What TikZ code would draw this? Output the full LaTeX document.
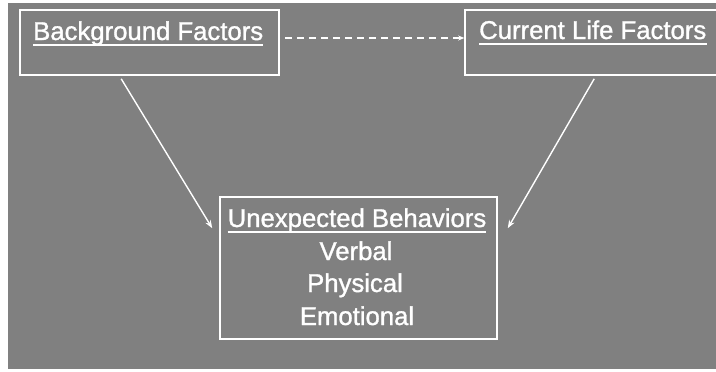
\documentclass[tikz,border=0pt]{standalone}
\usepackage{fontspec}
\setmainfont{Liberation Sans}
\newfontfamily\heavysans{Liberation Sans}[FakeBold=1.2]
\usetikzlibrary{arrows.meta}
\definecolor{bggray}{RGB}{128,128,128}
\tikzset{
  box/.style={draw=white, line width=1.6pt, inner sep=0pt},
  lbl/.style={text=white, font=\heavysans\fontsize{25.7}{30}\selectfont, inner sep=0pt},
  uline/.style={draw=white, line width=1.5pt},
  arr/.style={draw=white, line width=1.4pt, -{Stealth[length=8pt,width=6pt]}},
  dasharr/.style={draw=white, line width=1.3pt, dash pattern=on 7pt off 5pt, -{Stealth[length=6pt,width=5pt,sep=0pt]}},
}
\begin{document}
\begin{tikzpicture}[x=1pt,y=-1pt]
\useasboundingbox (0,0) rectangle (716,372);
\fill[white] (0,0) rectangle (716,372);
\fill[bggray] (8,3) rectangle (716,369);

% boxes
\node[box, minimum width=259pt, minimum height=65pt] (bf) at (149.5,42.5) {};
\node[box, minimum width=255pt, minimum height=65pt] (cl) at (592.5,42.5) {};
\node[box, minimum width=277pt, minimum height=142pt] (ub) at (358.5,268) {};

% texts
\node[lbl, anchor=base west] (bft) at (33,40) {Background Factors};
\draw[uline] ([yshift=-5pt]bft.base west) -- ([yshift=-5pt]bft.base east);
\node[lbl, anchor=base west] (clt) at (479,39) {Current Life Factors};
\draw[uline] ([yshift=-5pt]clt.base west) -- ([yshift=-5pt]clt.base east);
\node[lbl, anchor=base] (ubt) at (357,227) {Unexpected Behaviors};
\draw[uline] ([yshift=-5pt]ubt.base west) -- ([yshift=-5pt]ubt.base east);
\node[lbl, anchor=base] (v) at (356,260) {Verbal};
\node[lbl, anchor=base] (p) at (355,292) {Physical};
\node[lbl, anchor=base] (e) at (357,325) {Emotional};

% connectors
\draw[dasharr] ([xshift=5pt,yshift=4.5pt]bf.east) -- ([yshift=4.5pt]cl.west);
\draw[arr] ([xshift=102pt,yshift=-3pt]bf.south west) -- ([xshift=-7pt,yshift=-32pt]ub.north west);
\draw[arr] ([xshift=130pt,yshift=-3pt]cl.south west) -- ([xshift=10pt,yshift=-32pt]ub.north east);
\end{tikzpicture}
\end{document}
